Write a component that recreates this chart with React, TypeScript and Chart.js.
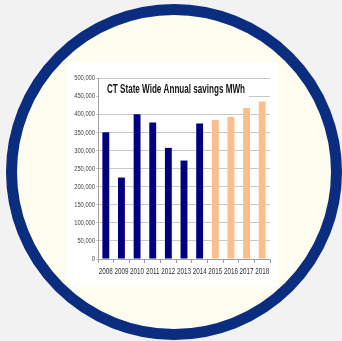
import React, { useEffect, useRef } from "react";
import { Chart, registerables } from "chart.js";

Chart.register(...registerables);

const years = ["2008", "2009", "2010", "2011", "2012", "2013", "2014", "2015", "2016", "2017", "2018"];
const savings = [350000, 225000, 400000, 377000, 307000, 272000, 374000, 384000, 392000, 417000, 435000];
const barColors = ["#000080", "#000080", "#000080", "#000080", "#000080", "#000080", "#000080", "#fcbf8c", "#fcbf8c", "#fcbf8c", "#fcbf8c"];
const titleText = "CT State Wide Annual savings MWh";

const FONT = '"Liberation Sans", Arial, sans-serif';

function drawNarrow(ctx: any, text: string, x: number, y: number, align: "left" | "right" | "center", squeeze: number) {
  const w = ctx.measureText(text).width * squeeze;
  let x0 = x;
  if (align === "right") x0 = x - w;
  else if (align === "center") x0 = x - w / 2;
  ctx.save();
  ctx.translate(x0, y);
  ctx.scale(squeeze, 1);
  ctx.textAlign = "left";
  ctx.fillText(text, 0, 0);
  ctx.restore();
}

const labelPlugin = {
  id: "narrowLabels",
  afterDraw(chart: any) {
    const ctx = chart.ctx;
    const a = chart.chartArea;
    const xs = chart.scales.x;
    const ys = chart.scales.y;
    ctx.save();
    ctx.textBaseline = "middle";
    // y tick labels
    ctx.font = "8px " + FONT;
    ctx.fillStyle = "#404040";
    ys.ticks.forEach((t: any) => {
      const py = ys.getPixelForValue(t.value);
      drawNarrow(ctx, Number(t.value).toLocaleString("en-US"), ys.right - 3, py, "right", 0.72);
    });
    // x tick labels
    ctx.font = "8.5px " + FONT;
    ctx.fillStyle = "#303030";
    years.forEach((lab, i) => {
      const px = xs.getPixelForTick(i);
      drawNarrow(ctx, lab, px, a.bottom + 13, "center", 0.74);
    });
    // inner title with white box
    ctx.fillStyle = "#ffffff";
    ctx.fillRect(a.left + 1, a.top + 2, 150, 21);
    ctx.font = "bold 12px " + FONT;
    ctx.fillStyle = "#141414";
    const w = ctx.measureText(titleText).width;
    const target = 138;
    ctx.translate(a.left + 9, a.top + 12);
    ctx.scale(target / w, 1);
    ctx.textAlign = "left";
    ctx.fillText(titleText, 0, 0);
    ctx.restore();
  },
};

export default function App() {
  const ref = useRef<HTMLCanvasElement>(null);
  useEffect(() => {
    document.body.style.margin = "0";
    const chart = new Chart(ref.current!, {
      type: "bar",
      data: {
        labels: years,
        datasets: [
          {
            data: savings,
            backgroundColor: barColors,
            borderWidth: 0,
            barPercentage: 0.44,
            categoryPercentage: 1,
          },
        ],
      },
      options: {
        animation: false,
        responsive: false,
        events: [],
        layout: { padding: { top: 16, right: 8, left: 0, bottom: 0 } },
        plugins: { legend: { display: false }, tooltip: { enabled: false }, title: { display: false } },
        scales: {
          x: {
            offset: true,
            grid: { display: true, drawOnChartArea: false, offset: true, tickLength: 4, color: "#a0a0a0" },
            border: { display: true, color: "#a0a0a0" },
            ticks: { display: false, autoSkip: false },
            afterFit(scale: any) {
              scale.height = 28;
            },
          },
          y: {
            min: 0,
            max: 500000,
            grid: { color: "#c8c8c8", tickLength: 2 },
            border: { display: true, color: "#a0a0a0" },
            ticks: { display: false, stepSize: 50000 },
            afterFit(scale: any) {
              scale.width = 31;
            },
          },
        },
      },
      plugins: [labelPlugin],
    });
    return () => chart.destroy();
  }, []);

  return (
    <div style={{ position: "fixed", left: 0, top: 0, width: 342, height: 341, background: "#f2f2f2", overflow: "hidden" }}>
      <div
        style={{
          position: "absolute",
          left: 6,
          top: 4,
          width: 314,
          height: 314,
          borderRadius: "50%",
          border: "11px solid #0a2d80",
          background: "#fffdf0",
        }}
      />
      <div style={{ position: "absolute", left: 67, top: 62, width: 211, height: 225, background: "#ffffff" }}>
        <canvas ref={ref} width={211} height={225} style={{ display: "block" }} />
      </div>
    </div>
  );
}
